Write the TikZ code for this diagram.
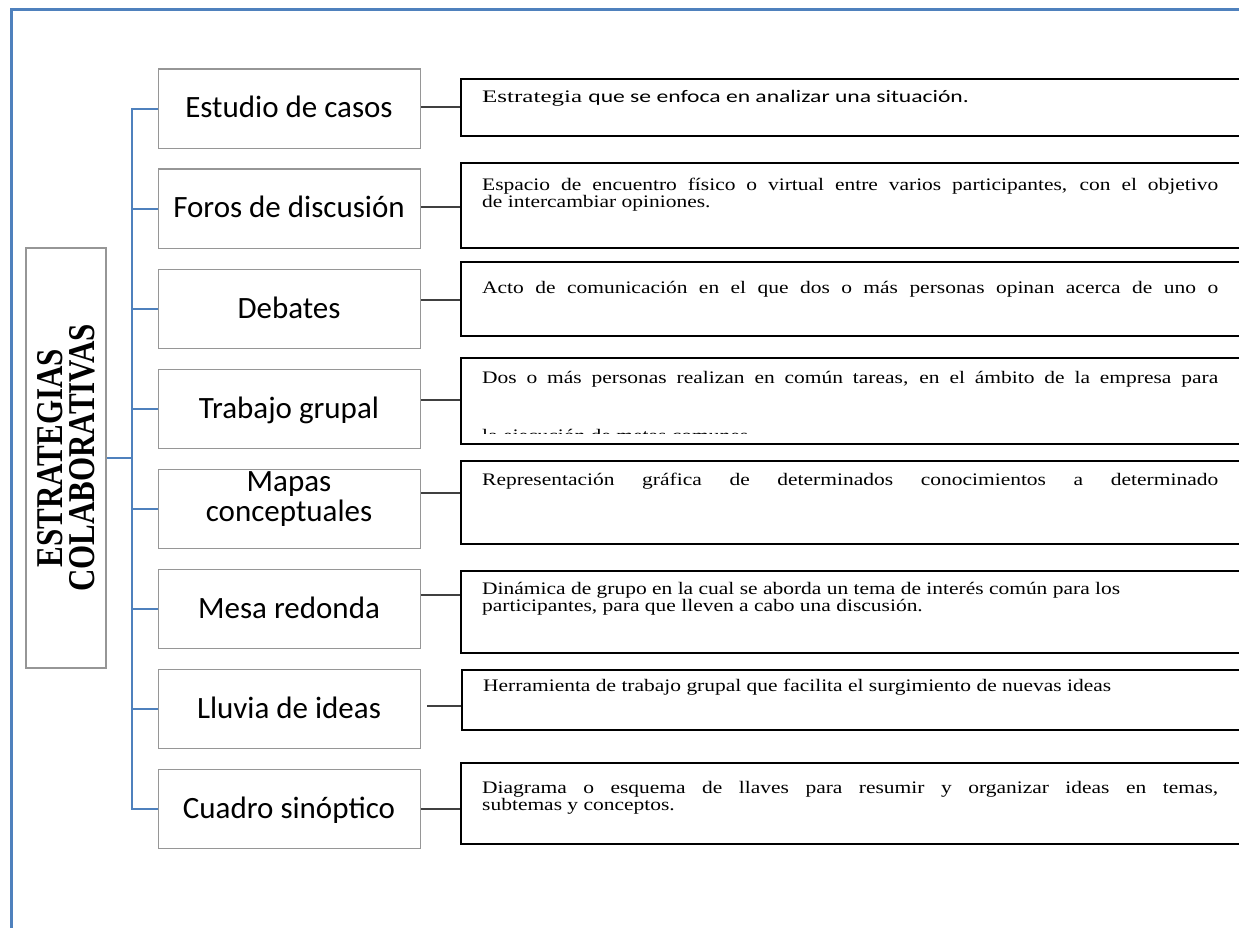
\documentclass[tikz,border=0pt]{standalone}
\usepackage{fontspec}
\setmainfont{Liberation Serif}
\newfontfamily\calfont{Carlito}
\newfontfamily\calE[FakeStretch=1.34]{Carlito}
\newfontfamily\tnr[FakeStretch=1.22]{Liberation Serif}
\newfontfamily\tnrE[FakeStretch=1.42]{Liberation Serif}
\newfontfamily\tnrB[FakeStretch=0.82]{Liberation Serif}
\definecolor{frameblue}{RGB}{79,129,189}
\definecolor{boxgray}{RGB}{150,150,150}
\definecolor{conngray}{RGB}{64,64,64}
\begin{document}
\begin{tikzpicture}[x=1pt,y=-1pt,
  mbox/.style={draw=boxgray, line width=1.2pt, minimum width=262pt, minimum height=79.5pt, anchor=north west, inner sep=0pt},
  rbox/.style={draw=black, line width=2.4pt, minimum width=820pt, anchor=north west, inner sep=0pt},
  mtext/.style={font=\calfont\fontsize{31}{30}\selectfont, anchor=base, inner sep=0pt},
  rtext/.style={font=\tnr\fontsize{17.6}{17}\selectfont, anchor=base west, inner sep=0pt},
  tree/.style={draw=frameblue, line width=2.5pt},
  conn/.style={draw=conngray, line width=1.4pt}]
\useasboundingbox (0,0) rectangle (1239,928);
\clip (0,0) rectangle (1239,928);
\fill[white] (0,0) rectangle (1239,928);
\draw[frameblue, line width=3pt] (11,10) rectangle (1300,1000);

% left box
\node[draw=boxgray, line width=1.2pt, minimum width=420pt, minimum height=80pt, inner sep=0pt,
      rotate=90, align=center, font=\tnrB\bfseries\fontsize{37.8}{32}\selectfont] (L) at (66,458)
      {ESTRATEGIAS\\COLABORATIVAS};

% middle boxes
\node[mbox] (m1) at (158,68.5) {};
\node[mbox] (m2) at (158,168.5) {};
\node[mbox] (m3) at (158,268.5) {};
\node[mbox] (m4) at (158,368.5) {};
\node[mbox] (m5) at (158,468.5) {};
\node[mbox] (m6) at (158,568.5) {};
\node[mbox] (m7) at (158,668.5) {};
\node[mbox] (m8) at (158,768.5) {};
\node[mtext] (mt1) at (289,118) {Estudio de casos};
\node[mtext] (mt2) at (289,218) {Foros de discusión};
\node[mtext] (mt3) at (289,318) {Debates};
\node[mtext] (mt4) at (289,418) {Trabajo grupal};
\node[mtext] (mt5) at (289,491) {\parbox[t]{262pt}{\centering Mapas\\conceptuales}};
\node[mtext] (mt6) at (289,618) {Mesa redonda};
\node[mtext] (mt7) at (289,718) {Lluvia de ideas};
\node[mtext] (mt8) at (289,818) {Cuadro sinóptico};

% tree
\coordinate (tk) at (132,0);
\draw[tree] (m1.west) -- (m1.west -| tk) -- (m8.west -| tk) -- (m8.west);
\foreach \k in {2,...,7} { \draw[tree] (m\k.west -| tk) -- (m\k.west); }
\draw[tree] (L.south) -- (L.south -| tk);

% right boxes
\node[rbox, minimum height=57pt] (r1) at (460,78) {};
\node[rbox, minimum height=85pt] (r2) at (460,162) {};
\node[rbox, minimum height=74pt] (r3) at (460,261) {};
\node[rbox, minimum height=86pt] (r4) at (460,357) {};
\node[rbox, minimum height=83pt] (r5) at (460,460) {};
\node[rbox, minimum height=82pt] (r6) at (460,570) {};
\node[rbox, minimum height=60pt] (r7) at (461,669) {};
\node[rbox, minimum height=81pt] (r8) at (460,762) {};

% right texts
\node[rtext] (t1) at (482,102.5) {{\tnrE Estrategia }{\calE que se enfoca en analizar una situación.}};
\node[rtext] (t2) at (482,191) {\parbox[t]{740pt}{\makebox[736pt][s]{Espacio de encuentro físico o virtual entre varios participantes, con el objetivo}\\de intercambiar opiniones.}};
\node[rtext] (t3) at (482,293.3) {\makebox[736pt][s]{Acto de comunicación en el que dos o más personas opinan acerca de uno o}};
\node[rtext] (t4) at (482,383.3) {\makebox[736pt][s]{Dos o más personas realizan en común tareas, en el ámbito de la empresa para}};
\begin{scope}
  \clip (470,425) rectangle (1239,433.5);
  \node[rtext] (t4b) at (482,441.5) {la ejecución de metas comunes.};
\end{scope}
\node[rtext] (t5) at (482,485) {\makebox[736pt][s]{Representación gráfica de determinados conocimientos a determinado}};
\node[rtext] (t6) at (482,594) {\parbox[t]{740pt}{Dinámica de grupo en la cual se aborda un tema de interés común para los\\participantes, para que lleven a cabo una discusión.}};
\node[rtext] (t7) at (483,691.7) {Herramienta de trabajo grupal que facilita el surgimiento de nuevas ideas};
\node[rtext] (t8) at (482,793.3) {\parbox[t]{740pt}{\makebox[736pt][s]{Diagrama o esquema de llaves para resumir y organizar ideas en temas,}\\subtemas y conceptos.}};

% connectors middle -> right
\coordinate (c1) at (0,107);
\coordinate (c2) at (0,207);
\coordinate (c3) at (0,300);
\coordinate (c4) at (0,400);
\coordinate (c5) at (0,493);
\coordinate (c6) at (0,595);
\coordinate (c7) at (0,706);
\coordinate (c8) at (0,809);
\foreach \k in {1,...,6,8} { \draw[conn] (m\k.east |- c\k) -- (r\k.west |- c\k); }
\draw[conn, shorten <=6pt] (m7.east |- c7) -- (r7.west |- c7);
\end{tikzpicture}
\end{document}
